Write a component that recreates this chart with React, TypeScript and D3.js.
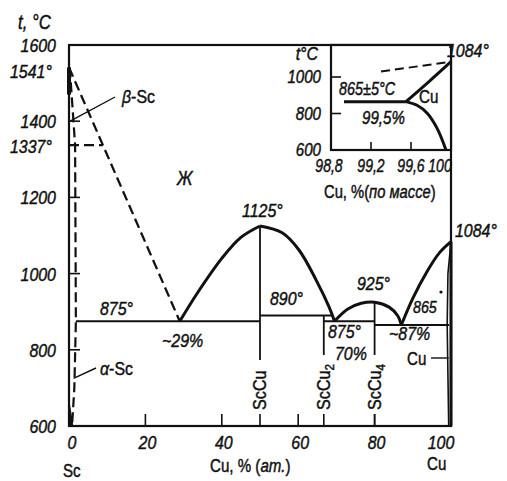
import React from "react";
import * as d3 from "d3";

// ---- data ----
const yTickValues = [600, 800, 1000, 1200, 1400, 1600];
const yTickLabels = ["600", "800", "1000", "1200", "1400", "1600"];
const xTickValues = [0, 20, 40, 60, 80, 100];
const xTickLabels = ["0", "20", "40", "60", "80", "100"];
const innerTicksY = [800, 1000, 1200, 1400];
const innerTicksX = [20, 40, 60, 80];

// liquidus branches (Cu at.%, °C)
const liqBeta: [number, number][] = [[0, 1541], [29, 875]];
const liqScCuLeft: [number, number][] = [[29, 875], [34, 955], [40, 1040], [45, 1095], [50, 1125]];
const liqScCuRight: [number, number][] = [[50, 1125], [55.8, 1107], [60.2, 1062], [64.7, 983], [68.1, 912], [69.5, 875]];
const liqScCu4: [number, number][] = [[69.5, 875], [73, 907], [76.5, 922], [80, 925], [83.8, 912], [86, 890], [87, 865]];
const liqCu: [number, number][] = [[87, 865], [90, 935], [93.7, 1005], [97, 1055], [100, 1084]];
const solidusBeta: [number, number][] = [[0.2, 1541], [1.6, 1337], [1.8, 875], [1.4, 700], [0.8, 600]];
const line1337: [number, number][] = [[0, 1337], [8.9, 1337]];
const alphaFill: [number, number][] = [[0, 600], [0, 665], [1.0, 600]];
const cuSolid: [number, number][] = [[100, 1084], [99.2, 1000], [99.0, 865], [99.4, 600]];

// invariant horizontals [from, to, temp]
const eut875a = [1.8, 50, 875];
const eut890 = [50, 68.6, 890];
const eut875b = [66.7, 80, 875];
const eut865 = [80, 99.5, 865];

// compounds
const compounds = [
  { x: 50, top: 1125, name: "ScCu", sub: "" },
  { x: 66.7, top: 890, name: "ScCu", sub: "2" },
  { x: 80, top: 925, name: "ScCu", sub: "4" },
];

// inset (Cu wt.%, °C)
const insetYTicks = [600, 800, 1000];
const insetYLabels = ["600", "800", "1000"];
const insetXTicks = [98.8, 99.2, 99.6, 100];
const insetXLabels = ["98,8", "99,2", "99,6", "100"];
const insetEut: [number, number][] = [[98.93, 865], [99.55, 865]];
const insetLiq: [number, number][] = [[99.55, 865], [99.78, 975], [100, 1084]];
const insetSolvus: [number, number][] = [[99.55, 865], [99.66, 845], [99.76, 803], [99.86, 720], [99.95, 600]];
const insetDashed: [number, number][] = [[99.3, 1030], [100, 1084]];

const FONT = "'Liberation Sans', Arial, sans-serif";
const K = "#111";

function T(props: { x: number; y: number; size?: number; italic?: boolean; anchor?: string; sx?: number; rot?: number; children: React.ReactNode }) {
  const { x, y, size = 19, italic = true, anchor = "start", sx = 0.84, rot = 0, children } = props;
  return (
    <text
      transform={`translate(${x},${y})${rot ? ` rotate(${rot})` : ""} scale(${sx},1)`}
      textAnchor={anchor}
      fontFamily={FONT}
      fontStyle={italic ? "italic" : "normal"}
      fontSize={size}
      fill={K}
      stroke={K}
      strokeWidth={0.45}
    >
      {children}
    </text>
  );
}

export default function App() {
  const x = d3.scaleLinear().domain([0, 100]).range([69, 451]);
  const y = d3.scaleLinear().domain([600, 1600]).range([426, 45]);
  const ix = d3.scaleLinear().domain([98.8, 100]).range([331, 451]);
  const iy = d3.scaleLinear().domain([600, 1000]).range([150, 77]);

  const straight = d3.line<[number, number]>().x(d => x(d[0])).y(d => y(d[1]));
  const curve = d3.line<[number, number]>().x(d => x(d[0])).y(d => y(d[1])).curve(d3.curveCatmullRom.alpha(0.5));
  const iStraight = d3.line<[number, number]>().x(d => ix(d[0])).y(d => iy(d[1]));
  const iCurve = d3.line<[number, number]>().x(d => ix(d[0])).y(d => iy(d[1])).curve(d3.curveCatmullRom.alpha(0.5));

  const k = K;
  const hline = (a: number[], key: string) => (
    <line key={key} x1={x(a[0])} x2={x(a[1])} y1={y(a[2])} y2={y(a[2])} stroke={k} strokeWidth={2} />
  );

  return (
    <svg width={507} height={481} style={{ position: "absolute", left: 0, top: 0, background: "#fff" }}>
      <rect x={0} y={0} width={507} height={481} fill="#fff" />
      {/* frame */}
      <rect x={x(0)} y={y(1600)} width={x(100) - x(0)} height={y(600) - y(1600)} fill="none" stroke={k} strokeWidth={2.2} />
      {innerTicksY.map(v => (
        <line key={"ty" + v} x1={x(0)} x2={x(0) + 11} y1={y(v)} y2={y(v)} stroke={k} strokeWidth={1.6} />
      ))}
      {innerTicksX.map(v => (
        <line key={"tx" + v} x1={x(v)} x2={x(v)} y1={y(600)} y2={y(600) - 12} stroke={k} strokeWidth={1.6} />
      ))}
      {yTickValues.map((v, i) => (
        <T key={"ly" + v} x={56} y={y(v) + 7} anchor="end">{yTickLabels[i]}</T>
      ))}
      {xTickValues.map((v, i) => (
        <T key={"lx" + v} x={x(v) + (v === 0 ? 3 : v === 100 ? -10 : 2)} y={449} anchor="middle">{xTickLabels[i]}</T>
      ))}
      <T x={18} y={29} size={20}>t, °C</T>
      <T x={63} y={477} italic={false} size={18}>Sc</T>
      <T x={210} y={472} italic={false} size={18}>Cu, % (<tspan fontStyle="italic">ат.</tspan>)</T>
      <T x={427} y={470} italic={false} size={18}>Cu</T>
      <T x={10} y={78}>1541°</T>
      <T x={10} y={153}>1337°</T>

      {/* left region: Sc side */}
      <line x1={x(0)} x2={x(0)} y1={y(1541)} y2={y(1470)} stroke={k} strokeWidth={4} />
      <path d={straight(alphaFill) + "Z"} fill={k} stroke={k} strokeWidth={1} />
      <path d={straight(liqBeta) || ""} fill="none" stroke={k} strokeWidth={2.3} strokeDasharray="10,5" />
      <path d={straight(solidusBeta) || ""} fill="none" stroke={k} strokeWidth={2.2} strokeDasharray="10,5" />
      <path d={straight(line1337) || ""} fill="none" stroke={k} strokeWidth={2.2} strokeDasharray="10,5" />
      <line x1={115} y1={97} x2={x(0.3)} y2={y(1400)} stroke={k} strokeWidth={1.4} />
      <T x={122} y={103} italic={false}><tspan fontStyle="italic">β</tspan>-Sc</T>
      <line x1={96} y1={368} x2={x(1.2)} y2={y(725)} stroke={k} strokeWidth={1.4} />
      <T x={100} y={375} italic={false}><tspan fontStyle="italic">α</tspan>-Sc</T>
      <T x={177} y={185} size={20}>Ж</T>

      {/* invariant lines */}
      {hline(eut875a, "h1")}
      {hline(eut890, "h2")}
      {hline(eut875b, "h3")}
      {hline(eut865, "h4")}

      {/* compounds */}
      {compounds.map((c, i) => (
        <g key={"c" + i}>
          <line x1={x(c.x)} x2={x(c.x)} y1={y(c.top)} y2={i === 0 ? 360 : 355} stroke={k} strokeWidth={1.8} />
          <line x1={x(c.x)} x2={x(c.x)} y1={y(600)} y2={y(600) - 12} stroke={k} strokeWidth={1.6} />
          <T x={x(c.x) + 6} y={410} rot={-90} italic={false} size={18} sx={0.9}>
            {c.name}
            {c.sub && <tspan dy={4} fontSize={13}>{c.sub}</tspan>}
          </T>
        </g>
      ))}

      {/* liquidus */}
      {[liqScCuLeft, liqScCuRight, liqScCu4, liqCu].map((d, i) => (
        <path key={"lq" + i} d={curve(d) || ""} fill="none" stroke={k} strokeWidth={3} />
      ))}
      <path d={straight(cuSolid) || ""} fill="none" stroke={k} strokeWidth={1.6} />
      <line x1={x(100)} x2={x(100)} y1={y(1084)} y2={y(600)} stroke={k} strokeWidth={3} />

      {/* main labels */}
      <T x={100} y={315}>875°</T>
      <T x={162} y={347}>~29%</T>
      <T x={242} y={217}>1125°</T>
      <T x={270} y={305}>890°</T>
      <T x={357} y={290}>925°</T>
      <T x={328} y={338}>875°</T>
      <T x={335} y={360}>70%</T>
      <T x={389} y={340}>~87%</T>
      <T x={413} y={313} size={17}>865</T>
      <circle cx={441} cy={292} r={1.6} fill={k} />
      <T x={407} y={365} italic={false} size={18}>Cu</T>
      <line x1={431} x2={x(99.4)} y1={358} y2={358} stroke={k} strokeWidth={1.4} />
      <T x={455} y={237}>1084°</T>

      {/* inset */}
      <rect x={ix(98.8)} y={y(1600)} width={ix(100) - ix(98.8)} height={iy(600) - y(1600)} fill="#fff" stroke={k} strokeWidth={2.2} />
      {insetYTicks.slice(1).map(v => (
        <line key={"iy" + v} x1={ix(98.8)} x2={ix(98.8) + 10} y1={iy(v)} y2={iy(v)} stroke={k} strokeWidth={1.6} />
      ))}
      {insetXTicks.slice(1, 3).map(v => (
        <line key={"ixt" + v} x1={ix(v)} x2={ix(v)} y1={iy(600)} y2={iy(600) - 8} stroke={k} strokeWidth={1.6} />
      ))}
      {insetYTicks.map((v, i) => (
        <T key={"iyl" + v} x={321} y={iy(v) + 6} anchor="end" size={18}>{insetYLabels[i]}</T>
      ))}
      {insetXTicks.map((v, i) => (
        <T key={"ixl" + v} x={ix(v) + (v === 100 ? -11 : v === 98.8 ? -2 : 0)} y={172} anchor="middle" size={18} sx={0.78}>{insetXLabels[i]}</T>
      ))}
      <T x={318} y={60} anchor="end" size={19}>t°C</T>
      <T x={324} y={198} italic={false} size={18} sx={0.82}>Cu, %(<tspan fontStyle="italic">по массе</tspan>)</T>
      <path d={iStraight(insetEut) || ""} fill="none" stroke={k} strokeWidth={3} />
      <path d={iCurve(insetLiq) || ""} fill="none" stroke={k} strokeWidth={3} />
      <path d={iCurve(insetSolvus) || ""} fill="none" stroke={k} strokeWidth={3} />
      <path d={iStraight(insetDashed) || ""} fill="none" stroke={k} strokeWidth={2} strokeDasharray="9,5" />
      <T x={339} y={95} size={18} sx={0.8}>865±5°C</T>
      <T x={419} y={103} italic={false} size={18}>Cu</T>
      <T x={362} y={124} size={18}>99,5%</T>
      <T x={447} y={57}>1084°</T>
    </svg>
  );
}
